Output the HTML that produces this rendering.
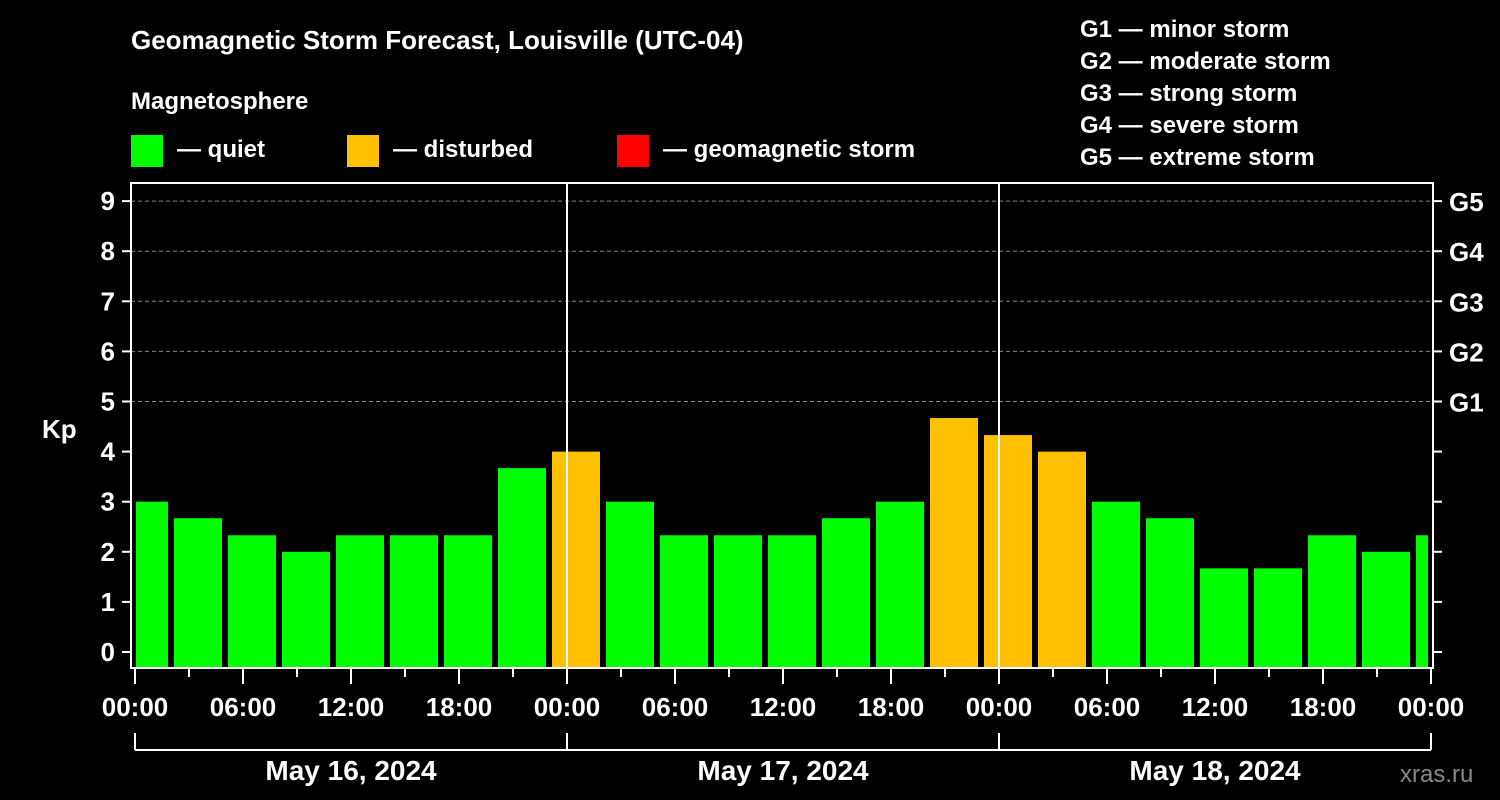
<!DOCTYPE html>
<html><head><meta charset="utf-8"><style>
body{margin:0;background:#000;}
svg{display:block;font-family:"Liberation Sans",sans-serif;font-weight:bold;}
</style></head><body>
<svg id="c" width="1500" height="800" xmlns="http://www.w3.org/2000/svg">
<text x="131" y="49" fill="#fff" font-size="26">Geomagnetic Storm Forecast, Louisville (UTC-04)</text>
<text x="131" y="109" fill="#fff" font-size="24">Magnetosphere</text>
<g><rect x="131" y="135" width="32" height="32" fill="#00ff00"/><text x="177" y="157" fill="#fff" font-size="24">— quiet</text></g>
<g><rect x="347" y="135" width="32" height="32" fill="#ffc000"/><text x="393" y="157" fill="#fff" font-size="24">— disturbed</text></g>
<g><rect x="617" y="135" width="32" height="32" fill="#ff0000"/><text x="663" y="157" fill="#fff" font-size="24">— geomagnetic storm</text></g>
<g fill="#fff" font-size="24">
<text x="1080" y="37">G1 — minor storm</text>
<text x="1080" y="69">G2 — moderate storm</text>
<text x="1080" y="101">G3 — strong storm</text>
<text x="1080" y="133">G4 — severe storm</text>
<text x="1080" y="165">G5 — extreme storm</text>
</g>
<text x="42" y="438" fill="#fff" font-size="26">Kp</text>
<text x="1400" y="782" fill="#888" font-size="24" font-weight="normal">xras.ru</text>
<g id="bars"></g>
<g id="axes"></g>
</svg>
<script>
const kpValues=[3,2.67,2.33,2,2.33,2.33,2.33,3.67,4,3,2.33,2.33,2.33,2.67,3,4.67,4.33,4,3,2.67,1.67,1.67,2.33,2,2.33];
const yTicks=[0,1,2,3,4,5,6,7,8,9];
const gLabels=["","","","","","G1","G2","G3","G4","G5"];
const hourLabels=["00:00","06:00","12:00","18:00","00:00","06:00","12:00","18:00","00:00","06:00","12:00","18:00","00:00"];
const dayLabels=["May 16, 2024","May 17, 2024","May 18, 2024"];
const NS="http://www.w3.org/2000/svg";
const L=131,R=1433,T=183,B=668,X0=135,PXH=18;
const y=v=>652-50.1*v;
const x=h=>X0+h*PXH;
function mk(tag,at,parent,txt){const e=document.createElementNS(NS,tag);for(const k in at)e.setAttribute(k,at[k]);if(txt!==undefined)e.textContent=txt;parent.appendChild(e);return e;}
const bars=document.getElementById('bars'),ax=document.getElementById('axes');
// grid
yTicks.forEach(v=>{if(v>=5){const g=mk('line',{x1:L,x2:R,y1:y(v),y2:y(v),stroke:'#888','stroke-dasharray':'4,3','stroke-width':1},ax);

}});
// bars
kpValues.forEach((v,i)=>{const c=x(0.5+3*i);let x1=Math.max(c-24,L+5),x2=Math.min(c+24,R-5);
const col=v>=5?'#ff0000':(v>=4?'#ffc000':'#00ff00');
const r=mk('rect',{x:x1,y:y(v),width:x2-x1,height:B-y(v),fill:col},bars);

});
// day separators
[1,2].forEach(d=>{const l=mk('line',{x1:x(24*d),x2:x(24*d),y1:T,y2:B,stroke:'#fff','stroke-width':2},ax);

});
// frame
const f=mk('rect',{x:L,y:T,width:R-L,height:B-T,fill:'none',stroke:'#fff','stroke-width':2},ax);


// y ticks
yTicks.forEach((v,i)=>{mk('line',{x1:L-9,x2:L,y1:y(v),y2:y(v),stroke:'#fff','stroke-width':2},ax);
mk('line',{x1:R,x2:R+9,y1:y(v),y2:y(v),stroke:'#fff','stroke-width':2},ax);
const t=mk('text',{x:L-16,y:y(v)+9,fill:'#fff','font-size':26,'text-anchor':'end'},ax,String(v));


if(gLabels[i]){const g=mk('text',{x:1449,y:y(v)+10,fill:'#fff','font-size':26},ax,gLabels[i]);

}});
// x ticks
for(let h=0;h<=72;h+=3){const big=h%6===0;mk('line',{x1:x(h),x2:x(h),y1:B,y2:B+(big?16:9),stroke:'#fff','stroke-width':2},ax);}
hourLabels.forEach((s,i)=>{const t=mk('text',{x:x(6*i),y:716,fill:'#fff','font-size':26,'text-anchor':'middle'},ax,s);

});
// day bracket
mk('line',{x1:x(0),x2:x(72),y1:750,y2:750,stroke:'#fff','stroke-width':2},ax);
[0,24,48,72].forEach(h=>mk('line',{x1:x(h),x2:x(h),y1:733,y2:750,stroke:'#fff','stroke-width':2},ax));
dayLabels.forEach((s,i)=>{const t=mk('text',{x:x(24*i+12),y:780,fill:'#fff','font-size':28,'text-anchor':'middle'},ax,s);

});
</script>
</body></html>
